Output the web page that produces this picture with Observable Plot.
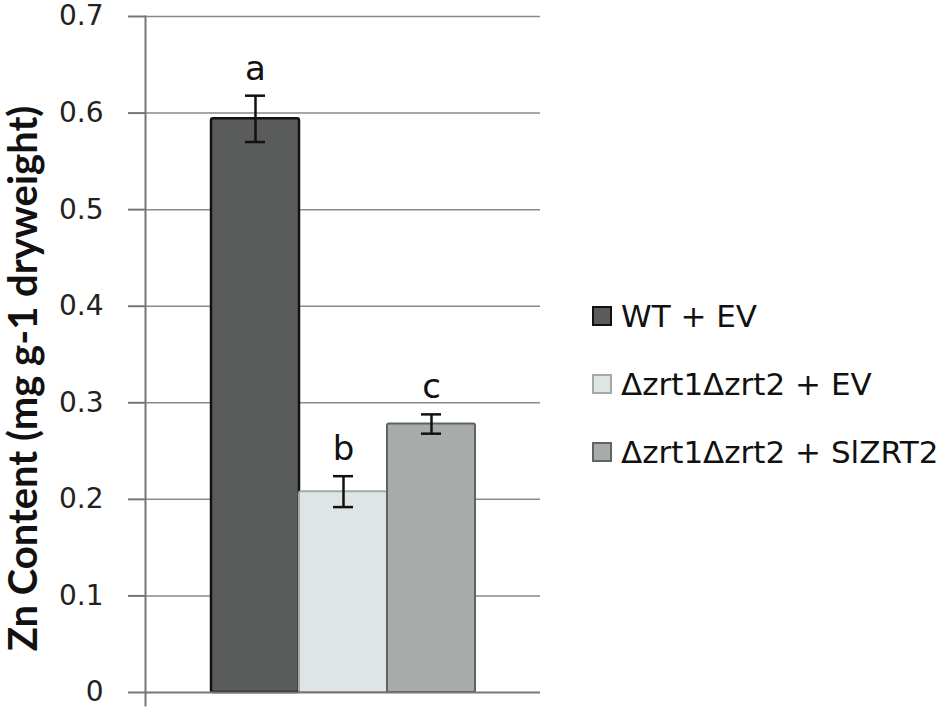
<!DOCTYPE html>
<html>
<head>
<meta charset="utf-8">
<script src="https://cdn.jsdelivr.net/npm/d3@7"></script>
<script src="https://cdn.jsdelivr.net/npm/@observablehq/plot@0.6"></script>
<style>
  body { margin: 0; background: white; }
  #wrap { position: relative; width: 950px; height: 710px; }
  #legend { position: absolute; left: 592px; top: 282px; font-family: "DejaVu Sans", sans-serif; font-size: 31px; color: #111; }
  .row { display: flex; align-items: center; height: 68px; white-space: nowrap; }
  .sw { width: 16px; height: 16px; margin-right: 9px; }
</style>
</head>
<body>
<div id="wrap"><div id="legend"></div></div>
<script>
const categories = ["WT + EV", "Δzrt1Δzrt2 + EV", "Δzrt1Δzrt2 + SlZRT2"];
const means = [0.594, 0.208, 0.278];
const errors = [0.024, 0.016, 0.010];
const letters = ["a", "b", "c"];
const yTicks = [0, 0.1, 0.2, 0.3, 0.4, 0.5, 0.6, 0.7];
const yTitle = "Zn Content (mg g-1 dryweight)";

const fills = ["#5a5c5c", "#dfe4e4", "#a7acab"];
const strokes = ["#111111", "#a3a9a9", "#5f6363"];

const data = categories.map((c, i) => ({
  group: c, value: means[i], lo: means[i] - errors[i], hi: means[i] + errors[i], letter: letters[i]
}));

const chart = Plot.plot({
  width: 950, height: 710,
  marginLeft: 145, marginRight: 410, marginTop: 16, marginBottom: 18,
  x: {type: "band", domain: categories, paddingInner: 0, paddingOuter: 0.74, axis: null},
  y: {domain: [0, 0.7], axis: null},
  style: {background: "white", fontFamily: "DejaVu Sans", overflow: "visible"},
  marks: [
    Plot.ruleY(yTicks.filter(d => d > 0), {stroke: "#8a8a8a", strokeWidth: 1.5}),
    ...categories.map((c, i) => Plot.barY([data[i]], {
      x: "group", y: "value", fill: fills[i], stroke: strokes[i], strokeWidth: i === 0 ? 2.5 : 2, rx: 2
    })),
    Plot.ruleX(data, {x: "group", y1: "lo", y2: "hi", stroke: "#111", strokeWidth: 2.5}),
    Plot.tickY(data, {x: "group", y: "lo", insetLeft: 34, insetRight: 34, stroke: "#111", strokeWidth: 2.5}),
    Plot.tickY(data, {x: "group", y: "hi", insetLeft: 34, insetRight: 34, stroke: "#111", strokeWidth: 2.5}),
    Plot.text(data, {x: "group", y: "hi", text: "letter", dy: -16, lineAnchor: "bottom", fontSize: 34, fill: "#111"}),
    Plot.ruleY([0], {stroke: "#777", strokeWidth: 2}),
    Plot.frame({anchor: "left", stroke: "#777", strokeWidth: 2, insetBottom: -13}),
    Plot.axisY({ticks: yTicks, tickSize: 17, tickPadding: 25, tickFormat: d => d === 0 ? "0" : d.toFixed(1),
      fontSize: 28, stroke: "#777", strokeWidth: 2, fill: "#222", label: null}),
    Plot.text([yTitle], {frameAnchor: "left", textAnchor: "middle", rotate: -90, dx: -121, dy: 24, fontSize: 40,
      fontWeight: "bold", fontFamily: "Lato", fill: "#111"})
  ]
});
document.getElementById("wrap").prepend(chart);

const legend = document.getElementById("legend");
categories.forEach((c, i) => {
  const row = document.createElement("div");
  row.className = "row";
  const sw = document.createElement("div");
  sw.className = "sw";
  sw.style.background = fills[i];
  sw.style.border = `2px solid ${strokes[i]}`;
  const t = document.createElement("span");
  t.textContent = c;
  row.append(sw, t);
  legend.append(row);
});
</script>
</body>
</html>
